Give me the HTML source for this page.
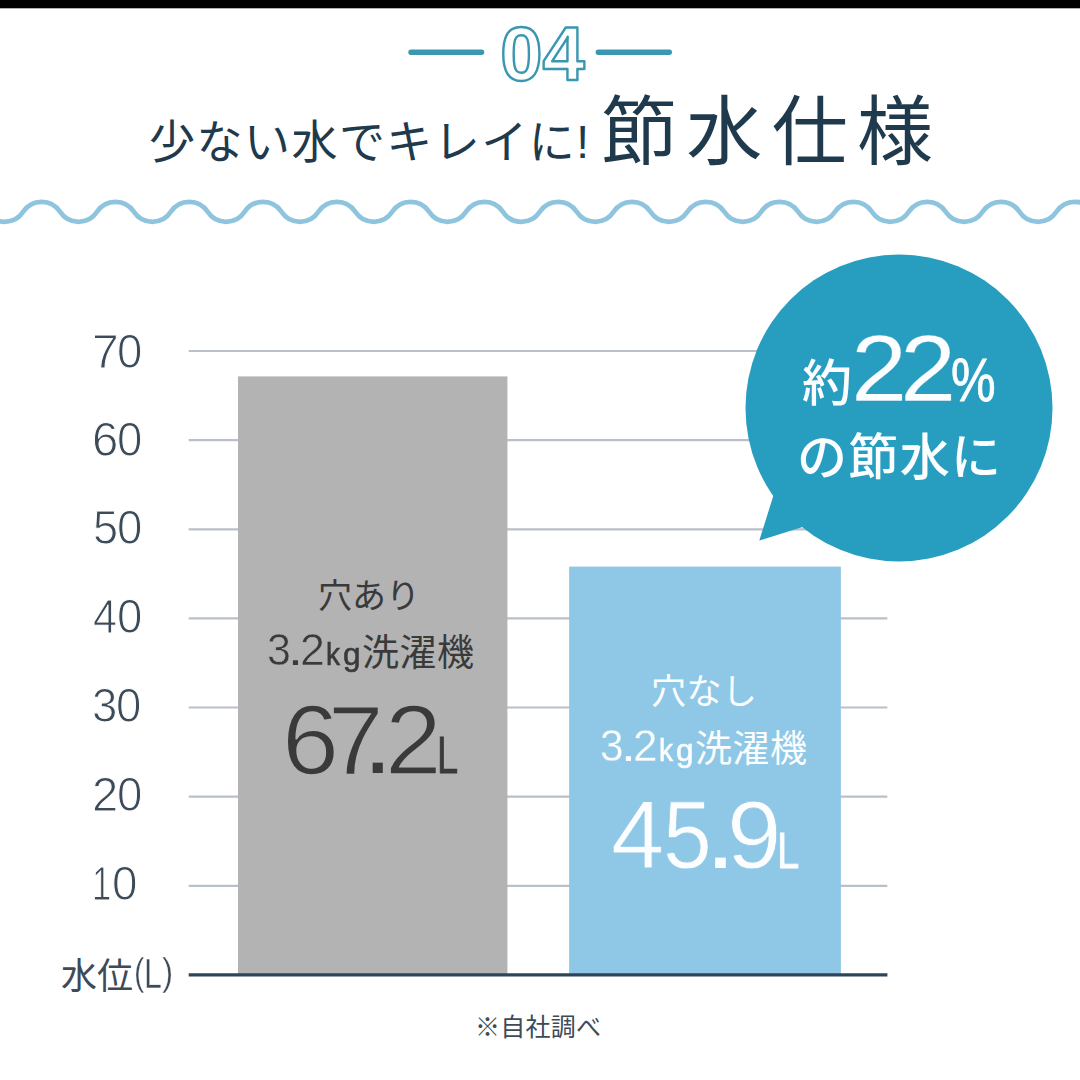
<!DOCTYPE html>
<html lang="ja"><head><meta charset="utf-8"><title>04 節水仕様</title>
<style>
html,body{margin:0;padding:0;background:#fff}
body{width:1080px;height:1080px;position:relative;overflow:hidden;font-family:"Liberation Sans",sans-serif}
svg.layer{position:absolute;left:0;top:0}
svg.layer text{font-family:"Liberation Sans","Noto Sans CJK JP",sans-serif}
.t{position:absolute;will-change:transform;line-height:1;white-space:nowrap;font-family:"Liberation Sans",sans-serif;font-kerning:none;letter-spacing:0}
.t i{font-style:normal;display:inline-block;line-height:1;transform-origin:0 0;vertical-align:baseline}
</style></head><body>
<svg class="layer" width="1080" height="1080" viewBox="0 0 1080 1080">
<rect x="0" y="0" width="1080" height="8.3" fill="#000"/>
<path d="M-50.6 211.8a22 22 0 0 1 36.9 0a22 22 0 0 0 36.9 0a22 22 0 0 1 36.9 0a22 22 0 0 0 36.9 0a22 22 0 0 1 36.9 0a22 22 0 0 0 36.9 0a22 22 0 0 1 36.9 0a22 22 0 0 0 36.9 0a22 22 0 0 1 36.9 0a22 22 0 0 0 36.9 0a22 22 0 0 1 36.9 0a22 22 0 0 0 36.9 0a22 22 0 0 1 36.9 0a22 22 0 0 0 36.9 0a22 22 0 0 1 36.9 0a22 22 0 0 0 36.9 0a22 22 0 0 1 36.9 0a22 22 0 0 0 36.9 0a22 22 0 0 1 36.9 0a22 22 0 0 0 36.9 0a22 22 0 0 1 36.9 0a22 22 0 0 0 36.9 0a22 22 0 0 1 36.9 0a22 22 0 0 0 36.9 0a22 22 0 0 1 36.9 0a22 22 0 0 0 36.9 0a22 22 0 0 1 36.9 0a22 22 0 0 0 36.9 0a22 22 0 0 1 36.9 0a22 22 0 0 0 36.9 0a22 22 0 0 1 36.9 0a22 22 0 0 0 36.9 0a22 22 0 0 1 36.9 0" fill="none" stroke="#8fc4df" stroke-width="4.8" stroke-linecap="round"/>
<path d="M411 52.2H481.6M598.3 52.2H669.3" stroke="#3a97b1" stroke-width="5.4" stroke-linecap="round" fill="none"/>
<path d="M188.7 351H887.3M188.7 440.1H887.3M188.7 529.3H887.3M188.7 618.4H887.3M188.7 707.5H887.3M188.7 796.6H887.3M188.7 885.8H887.3" stroke="#b9c0c8" stroke-width="2.2" fill="none"/>
<rect x="238" y="376.4" width="269.4" height="598.6" fill="#b3b3b3"/>
<rect x="569.1" y="566.6" width="271.8" height="408.4" fill="#8fc8e6"/>
<path d="M188.7 974.9H887.4" stroke="#2e4558" stroke-width="3.1" fill="none"/>
<circle cx="899" cy="408" r="153.5" fill="#279ebf"/>
<path d="M759.3 540.6 L774 493.5 L790 480 L818 520 L801 527.6 Z" fill="#279ebf"/>
<text x="149" y="158" font-size="46" fill="#1f3a4c" textLength="440" lengthAdjust="spacing">少ない水でキレイに!</text>
<text x="601" y="159" font-size="76" fill="#1f3a4c" textLength="332" lengthAdjust="spacing">節水仕様</text>
<text x="318" y="608" font-size="34" fill="#3a3a3a" textLength="102" lengthAdjust="spacing">穴あり</text>
<text x="362" y="666" font-size="37" fill="#3a3a3a" textLength="112" lengthAdjust="spacing">洗濯機</text>
<text x="651" y="704" font-size="35" fill="#fbfdfe" textLength="106" lengthAdjust="spacing">穴なし</text>
<text x="695" y="762" font-size="37" fill="#fbfdfe" textLength="112" lengthAdjust="spacing">洗濯機</text>
<text x="802" y="401" font-size="50" font-weight="500" fill="#fbfdfe">約</text>
<text x="797" y="475" font-size="50" font-weight="500" fill="#fbfdfe" textLength="204" lengthAdjust="spacing">の節水に</text>
<text x="61" y="989" font-size="36" fill="#3d4b59" textLength="72" lengthAdjust="spacing">水位</text>
<text x="475" y="1036" font-size="25" fill="#3d4b59" textLength="126" lengthAdjust="spacing">※自社調べ</text>
<text x="542.5" y="80" font-size="76" font-weight="bold" text-anchor="middle" fill="#fff" stroke="#3a97b1" stroke-width="2.4" stroke-linejoin="round">04</text>
</svg>
<span class="t" style="left:91.73px;top:326.72px;font-size:47.45px;color:#3d4b59;font-weight:normal"><i style="transform:scaleX(1.015);position:relative;top:0.50px;-webkit-text-stroke:1.0px #fff">7</i><i style="margin-left:-1.30px;font-size:47.41px;transform:scaleX(0.962);position:relative;top:0.50px;-webkit-text-stroke:1.0px #fff">0</i></span>
<span class="t" style="left:91.79px;top:415.01px;font-size:47.41px;color:#3d4b59;font-weight:normal"><i style="position:relative;top:0.50px;-webkit-text-stroke:1.0px #fff">6</i><i style="margin-left:-1.34px;transform:scaleX(0.962);position:relative;top:0.50px;-webkit-text-stroke:1.0px #fff">0</i></span>
<span class="t" style="left:92.59px;top:503.49px;font-size:47.43px;color:#3d4b59;font-weight:normal"><i style="transform:scaleX(0.952);position:relative;top:0.50px;-webkit-text-stroke:1.0px #fff">5</i><i style="margin-left:-2.15px;font-size:47.41px;transform:scaleX(0.962);position:relative;top:0.50px;-webkit-text-stroke:1.0px #fff">0</i></span>
<span class="t" style="left:92.71px;top:591.97px;font-size:47.45px;color:#3d4b59;font-weight:normal"><i style="transform:scaleX(0.912);position:relative;top:0.50px;-webkit-text-stroke:1.0px #fff">4</i><i style="margin-left:-2.28px;font-size:47.41px;transform:scaleX(0.962);position:relative;top:0.50px;-webkit-text-stroke:1.0px #fff">0</i></span>
<span class="t" style="left:92.46px;top:680.86px;font-size:47.41px;color:#3d4b59;font-weight:normal"><i style="transform:scaleX(0.961);position:relative;top:0.50px;-webkit-text-stroke:1.0px #fff">3</i><i style="margin-left:-2.01px;transform:scaleX(0.962);position:relative;top:0.50px;-webkit-text-stroke:1.0px #fff">0</i></span>
<span class="t" style="left:92.03px;top:769.74px;font-size:47.43px;color:#3d4b59;font-weight:normal"><i style="transform:scaleX(0.995);position:relative;top:0.50px;-webkit-text-stroke:1.0px #fff">2</i><i style="margin-left:-1.59px;font-size:47.41px;transform:scaleX(0.962);position:relative;top:0.50px;-webkit-text-stroke:1.0px #fff">0</i></span>
<span class="t" style="left:91.85px;top:858.62px;font-size:47.45px;color:#3d4b59;font-weight:normal"><i style="transform:scaleX(0.733);position:relative;top:0.50px;-webkit-text-stroke:1.0px #fff">1</i><i style="margin-left:-6.03px;font-size:47.41px;transform:scaleX(0.966);position:relative;top:0.50px;-webkit-text-stroke:1.0px #fff">0</i></span>
<span class="t" style="left:134.06px;top:953.01px;font-size:41.68px;color:#3d4b59;font-weight:normal"><i style="font-size:39.13px;transform:scaleX(0.800);position:relative;top:-2.70px;-webkit-text-stroke:0.4px #fff">(</i><i style="margin-left:-2.83px;transform:scaleX(0.773);position:relative;top:0.20px;-webkit-text-stroke:0.4px #fff">L</i><i style="margin-left:-5.14px;font-size:39.13px;transform:scaleX(0.858);position:relative;top:-2.70px;-webkit-text-stroke:0.4px #fff">)</i></span>
<span class="t" style="left:267.26px;top:628.14px;font-size:44.36px;color:#3a3a3a;font-weight:normal"><i style="font-size:44.35px;transform:scaleX(0.970);position:relative;top:0.30px;-webkit-text-stroke:0.6px #b3b3b3">3</i><i style="margin-left:-3.72px;font-size:43.50px;transform:scaleX(1.231)">.</i><i style="margin-left:-0.05px;transform:scaleX(1.009);position:relative;top:0.30px;-webkit-text-stroke:0.6px #b3b3b3">2</i><i style="margin-left:1.19px;font-size:30.77px;transform:scaleX(0.913);position:relative;top:-0.30px;-webkit-text-stroke:0.6px #3a3a3a">k</i><i style="margin-left:1.98px;font-size:31.69px;transform:scaleX(0.996);-webkit-text-stroke:0.6px #3a3a3a">g</i></span>
<span class="t" style="left:600.14px;top:724.11px;font-size:43.93px;color:#fbfdfe;font-weight:normal"><i style="font-size:43.92px;transform:scaleX(0.965);position:relative;top:0.15px;-webkit-text-stroke:0.3px #8fc8e6">3</i><i style="margin-left:-3.65px;font-size:43.50px;transform:scaleX(1.231)">.</i><i style="margin-left:0.14px;transform:scaleX(1.004);position:relative;top:0.15px;-webkit-text-stroke:0.3px #8fc8e6">2</i><i style="margin-left:1.24px;font-size:30.77px;transform:scaleX(0.913);position:relative;top:-0.30px;-webkit-text-stroke:0.6px #fbfdfe">k</i><i style="margin-left:1.98px;font-size:31.69px;transform:scaleX(0.996);-webkit-text-stroke:0.6px #fbfdfe">g</i></span>
<span class="t" style="left:281.94px;top:690.17px;font-size:98.18px;color:#3a3a3a;font-weight:normal"><i style="font-size:98.12px;transform:scaleX(1.045);position:relative;top:0.75px;-webkit-text-stroke:1.5px #b3b3b3">6</i><i style="margin-left:-8.68px;transform:scaleX(1.017);position:relative;top:0.75px;-webkit-text-stroke:1.5px #b3b3b3">7</i><i style="margin-left:-19.32px;font-size:96.00px;transform:scaleX(1.105)">.</i><i style="margin-left:-4.86px;font-size:98.15px;transform:scaleX(1.038);position:relative;top:0.75px;-webkit-text-stroke:1.5px #b3b3b3">2</i><i style="margin-left:-2.14px;font-size:51.34px;transform:scaleX(0.742);position:relative;top:-0.40px;-webkit-text-stroke:0.8px #3a3a3a">L</i></span>
<span class="t" style="left:610.71px;top:786.43px;font-size:97.16px;color:#fbfdfe;font-weight:normal"><i style="transform:scaleX(0.982);position:relative;top:0.40px;-webkit-text-stroke:0.8px #8fc8e6">4</i><i style="margin-left:-2.56px;font-size:97.15px;transform:scaleX(0.903);position:relative;top:0.40px;-webkit-text-stroke:0.8px #8fc8e6">5</i><i style="margin-left:-11.58px;font-size:96.00px;transform:scaleX(1.160)">.</i><i style="margin-left:-4.39px;font-size:97.13px;transform:scaleX(1.007);position:relative;top:0.40px;-webkit-text-stroke:0.8px #8fc8e6">9</i><i style="margin-left:-4.73px;font-size:50.34px;transform:scaleX(0.797);position:relative;top:-0.40px;-webkit-text-stroke:0.8px #fbfdfe">L</i></span>
<span class="t" style="left:850.97px;top:321.75px;font-size:94.43px;color:#fbfdfe;font-weight:normal"><i style="transform:scaleX(1.069);position:relative;top:0.15px;-webkit-text-stroke:0.3px #279ebf">2</i><i style="margin-left:-3.82px;transform:scaleX(1.069);position:relative;top:0.15px;-webkit-text-stroke:0.3px #279ebf">2</i><i style="margin-left:-1.08px;font-size:61.46px;transform:scaleX(0.816);position:relative;top:-0.40px;-webkit-text-stroke:0.8px #fbfdfe">%</i></span>
</body></html>
